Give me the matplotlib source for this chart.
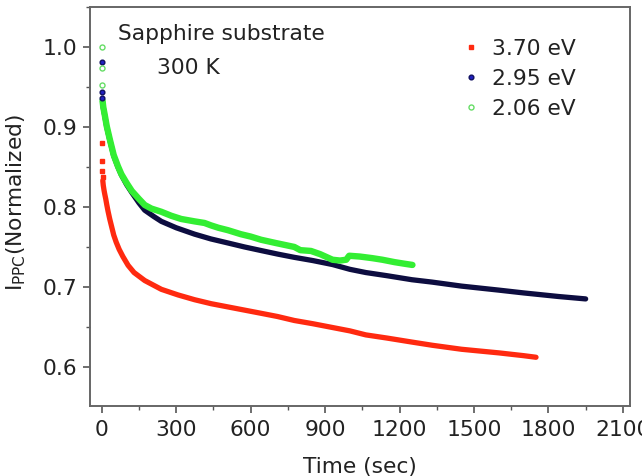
import matplotlib
matplotlib.use("Agg")
import matplotlib.pyplot as plt
from matplotlib.ticker import MultipleLocator, FormatStrFormatter

plt.rcParams['font.family'] = ['DejaVu Sans']
plt.rcParams['mathtext.fontset'] = 'dejavusans'

# ---- data ----
labels = ["3.70 eV", "2.95 eV", "2.06 eV"]

# first discrete samples at t ~ 0
red_t0 = [0, 1, 2, 3]
red_y0 = [0.880, 0.858, 0.845, 0.838]
blue_t0 = [0, 1, 2]
blue_y0 = [0.981, 0.944, 0.936]
green_t0 = [0, 1, 2]
green_y0 = [1.000, 0.974, 0.952]

# continuous decay parts
red_t = [4, 6, 9, 12, 16, 20, 25, 32, 40, 48, 58, 70, 85, 106, 130, 173, 240,
         307, 374, 441, 508, 575, 642, 708, 776, 850, 900, 1000, 1064, 1150,
         1250, 1332, 1450, 1600, 1700, 1750]
red_y = [0.833, 0.827, 0.821, 0.816, 0.810, 0.803, 0.795, 0.785, 0.775, 0.765,
         0.756, 0.747, 0.738, 0.727, 0.718, 0.708, 0.697, 0.690, 0.684, 0.679,
         0.675, 0.671, 0.667, 0.663, 0.658, 0.654, 0.651, 0.645, 0.640, 0.636,
         0.631, 0.627, 0.622, 0.6175, 0.614, 0.612]

blue_t = [3, 6, 12, 20, 32, 48, 65, 79, 100, 121, 150, 173, 210, 240, 300, 374,
          440, 508, 575, 642, 710, 776, 850, 930, 1000, 1064, 1150, 1250, 1332,
          1450, 1600, 1700, 1841, 1950]
blue_y = [0.932, 0.924, 0.914, 0.900, 0.884, 0.864, 0.850, 0.840, 0.828, 0.818,
          0.805, 0.796, 0.788, 0.782, 0.774, 0.766, 0.760, 0.755, 0.750, 0.7455,
          0.741, 0.737, 0.733, 0.728, 0.722, 0.718, 0.714, 0.709, 0.706, 0.701,
          0.696, 0.6925, 0.688, 0.685]

green_t = [3, 6, 12, 20, 32, 48, 65, 79, 100, 121, 150, 173, 200, 240, 280, 320,
           374, 414, 440, 470, 508, 560, 600, 642, 700, 776, 800, 843, 880, 930,
           960, 985, 997, 1040, 1090, 1131, 1180, 1220, 1252]
green_y = [0.933, 0.925, 0.915, 0.901, 0.885, 0.865, 0.851, 0.841, 0.830, 0.820,
           0.810, 0.8025, 0.798, 0.794, 0.789, 0.785, 0.782, 0.780, 0.777, 0.774,
           0.771, 0.766, 0.763, 0.759, 0.755, 0.750, 0.746, 0.745, 0.741, 0.734,
           0.733, 0.734, 0.739, 0.738, 0.736, 0.734, 0.731, 0.729, 0.7275]

xticks = [0, 300, 600, 900, 1200, 1500, 1800, 2100]
yticks = [0.6, 0.7, 0.8, 0.9, 1.0]

red_c = '#ff2a10'
blue_c = '#0d0d40'
green_c = '#33ee33'
txt_c = '#222222'
fs = 15.7

fig = plt.figure(figsize=(6.42, 4.76), dpi=100)
ax = fig.add_axes([0.140, 0.147, 0.841, 0.838])

lw = 3.8
ax.plot(red_t, red_y, color=red_c, lw=lw, solid_capstyle='round', zorder=2)
ax.plot(blue_t, blue_y, color=blue_c, lw=lw, solid_capstyle='round', zorder=3)
ax.plot(green_t, green_y, color=green_c, lw=lw + 0.8, solid_capstyle='round',
        zorder=4)

ax.plot(red_t0, red_y0, 's', ms=3.2, color=red_c, mec=red_c, ls='none',
        label=labels[0], zorder=5)
ax.plot(blue_t0, blue_y0, 'o', ms=3.4, color='#2020c0', mec='#101060', ls='none',
        label=labels[1], zorder=6)
ax.plot(green_t0, green_y0, 'o', ms=3.6, mfc='none', mec='#66dd66', mew=1.0,
        ls='none', label=labels[2], zorder=7)

ax.set_xlim(-48, 2128)
ax.set_ylim(0.551, 1.05)
ax.set_xticks(xticks)
ax.set_yticks(yticks)
ax.xaxis.set_minor_locator(MultipleLocator(150))
ax.yaxis.set_minor_locator(MultipleLocator(0.05))

ax.tick_params(which='major', direction='out', length=5, width=1.2,
               colors='#555555', labelcolor=txt_c, labelsize=fs)
ax.tick_params(which='minor', direction='out', length=3, width=1.0,
               colors='#555555')
ax.tick_params(axis='x', pad=5)
ax.tick_params(axis='y', pad=4)
ax.yaxis.set_major_formatter(FormatStrFormatter('%.1f'))
for s in ax.spines.values():
    s.set_color('#666666')
    s.set_linewidth(1.4)

ax.set_xlabel('Time (sec)', fontsize=fs, color=txt_c, labelpad=12)
ax.set_ylabel(r'$\mathregular{I_{PPC}}$(Normalized)', fontsize=fs, color=txt_c)
ax.yaxis.set_label_coords(-0.115, 0.51)

ax.text(0.052, 0.917, 'Sapphire substrate', transform=ax.transAxes,
        fontsize=fs, color=txt_c, va='baseline')
ax.text(0.124, 0.832, '300 K', transform=ax.transAxes, fontsize=fs,
        color=txt_c, va='baseline')

leg = ax.legend(loc='upper left', bbox_to_anchor=(0.689, 0.92), frameon=False,
                fontsize=fs, handlelength=0.8, handletextpad=0.6,
                labelspacing=0.45, borderpad=0, borderaxespad=0)
for t in leg.get_texts():
    t.set_color(txt_c)

fig.savefig('out.png', dpi=100)
